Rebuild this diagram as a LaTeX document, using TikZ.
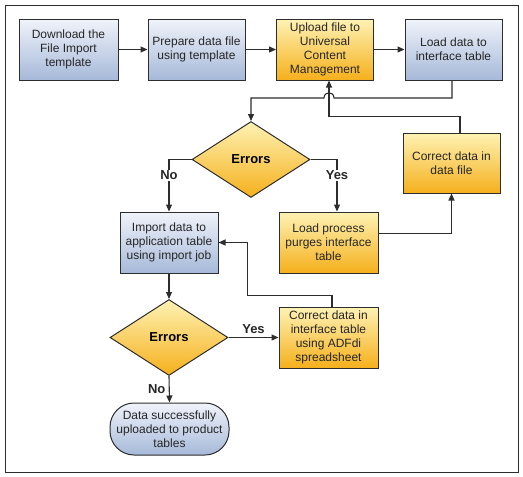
\documentclass[tikz,border=0pt]{standalone}
\usepackage{fontspec}
\setmainfont{Liberation Sans}
\usetikzlibrary{shapes.geometric,arrows.meta}
\definecolor{bluetop}{RGB}{240,243,250}
\definecolor{bluebot}{RGB}{166,185,217}
\definecolor{ortop}{RGB}{254,242,180}
\definecolor{orbot}{RGB}{245,176,28}
\definecolor{linegray}{RGB}{45,45,45}
\tikzset{
  boxbase/.style={draw=linegray, line width=1pt, align=center, text=black!85,
    font=\fontsize{12}{14.2}\selectfont, inner sep=2pt},
  bluebox/.style={boxbase, top color=bluetop, bottom color=bluebot},
  orbox/.style={boxbase, top color=ortop, bottom color=orbot},
  decision/.style={diamond, draw=linegray, line width=1pt, inner sep=0pt,
    top color=ortop, bottom color=orbot, font=\fontsize{13}{15}\selectfont\bfseries,
    minimum width=118pt, minimum height=76pt, aspect=1.55},
  flow/.style={draw=linegray, line width=1.1pt, ->},
  answer/.style={font=\fontsize{13}{15}\selectfont\bfseries, text=black!85},
}
\begin{document}
\begin{tikzpicture}[x=1pt,y=-1pt,>={Triangle[length=7pt,width=6pt]}]
        \useasboundingbox (0,0) rectangle (523,477);
        \draw[linegray, line width=1pt] (5,5) rectangle (518,472);
        % top row
        \node[bluebox, minimum width=99pt, minimum height=61pt] (dl) at (68.5,49.5) {Download the\\File Import\\template};
        \node[bluebox, minimum width=97pt, minimum height=61pt] (prep) at (196.5,49.5) {Prepare data file\\using template};
        \node[orbox, minimum width=97pt, minimum height=61pt] (upload) at (325,49.5) {Upload file to\\Universal\\Content\\Management};
        \node[bluebox, minimum width=97pt, minimum height=61pt] (load) at (453.5,49.5) {Load data to\\interface table};
        % middle part
        \node[orbox, minimum width=97pt, minimum height=60pt] (fixfile) at (451.5,163) {Correct data in\\data file};
        \node[decision] (err1) at (251,159.5) {Errors};
        \node[bluebox, minimum width=98pt, minimum height=61pt] (imp) at (169,242.5) {Import data to\\application table\\using import job};
        \node[orbox, minimum width=99pt, minimum height=61pt] (purge) at (328.5,242.5) {Load process\\purges interface\\table};
        % bottom part
        \node[orbox, minimum width=99pt, minimum height=61pt] (fixtab) at (328.5,337.5) {Correct data in\\interface table\\using ADFdi\\spreadsheet};
        \node[decision] (err2) at (169,337.5) {Errors};
        \node[bluebox, rounded corners=24pt, minimum width=119pt, minimum height=52pt] (done) at (169.5,429) {Data successfully\\uploaded to product\\tables};
        \coordinate (hopR) at (334,98);
        \coordinate (hopL) at (324,98);
        % connectors
        \draw[flow] (dl) -- (prep);
        \draw[flow] (prep) -- (upload);
        \draw[flow] (upload) -- (load);
        \draw[flow] ([xshift=-1.5pt]load.south) |- (hopR) .. controls +(0,-7) and +(0,-7) .. (hopL) -| (err1.north);
        \draw[flow] ([xshift=8.5pt]fixfile.north) -- ++(0,-16) -| ([xshift=4pt]upload.south);
        \draw[flow] (err1.west) -| (imp.north) node[answer, pos=0.65, fill=white, inner sep=1pt] {No};
        \draw[flow] (err1.east) -| ([xshift=8.5pt]purge.north) node[answer, pos=0.65, fill=white, inner sep=1pt] {Yes};
        \draw[flow] ([yshift=9pt]purge.east) -| (fixfile.south);
        \draw[flow] ([xshift=3.5pt]fixtab.north) -- ++(0,-11) -| ([xshift=29pt]imp.east) -- (imp.east);
        \draw[flow] (imp.south) -- (err2.north);
        \draw[flow] (err2.east) -- (fixtab.west) node[answer, midway, above] {Yes};
        \draw[flow] (err2.south) -- (done.north) node[answer, midway, left] {No};
\end{tikzpicture}
\end{document}
